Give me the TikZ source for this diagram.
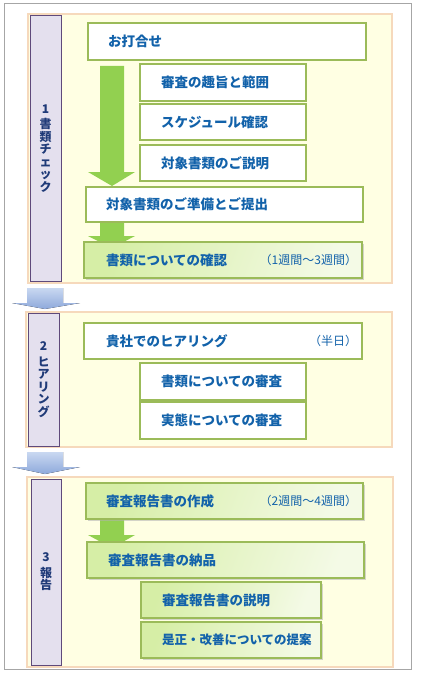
\documentclass[tikz,border=0pt]{standalone}
\usepackage{fontspec}
\setmainfont{Noto Sans CJK JP}
\usetikzlibrary{shadows}
\definecolor{framegray}{HTML}{A6A6A6}
\definecolor{panelfill}{HTML}{FFFFE3}
\definecolor{panelborder}{HTML}{F6D9BC}
\definecolor{sidefill}{HTML}{E4E0EE}
\definecolor{sideborder}{HTML}{5F4A7B}
\definecolor{sidetext}{HTML}{1F3A78}
\definecolor{boxborder}{HTML}{9BBB59}
\definecolor{boxtext}{HTML}{1262AA}
\definecolor{garrow}{HTML}{92D050}
\definecolor{gl}{HTML}{D6EEA6}
\definecolor{gr}{HTML}{F4FAE6}
\definecolor{blA}{HTML}{C9D8F1}
\definecolor{blB}{HTML}{8EA9DB}
\begin{document}
\begin{tikzpicture}[x=1pt,y=-1pt,
  every node/.style={inner sep=0pt, outer sep=0pt},
  panel/.style={draw=panelborder, line width=2pt, fill=panelfill, anchor=north west},
  side/.style={draw=sideborder, line width=1pt, fill=sidefill, text=sidetext, anchor=north west,
    align=center, font=\bfseries\fontsize{12}{12.5}\selectfont},
  box/.style={draw=boxborder, line width=1.6pt, fill=white, anchor=north west, align=left,
    text=boxtext, font=\bfseries\fontsize{13.5}{15}\selectfont},
  gbox/.style={box, left color=gl, right color=gr, shading angle=70,
    general shadow={fill=black!30, opacity=0.55, shadow xshift=1.5pt, shadow yshift=-2pt}},
  dur/.style={text=boxtext, anchor=east, font=\fontsize{12}{14}\selectfont},
  greenarrow/.style={fill=garrow},
  bluearrow/.style={top color=blA, bottom color=blB},
]
\useasboundingbox (0,0) rectangle (420,682);
\fill[white] (0,0) rectangle (420,682);
\draw[framegray, line width=1pt] (4,4) rectangle (411,669);

% ---------- Section 1 ----------
\node[panel, minimum width=364pt, minimum height=269pt] (p1) at (28,14) {};
\node[side, minimum width=31pt, minimum height=265pt] (t1) at (30,16)
  {1\\[3pt]書\\類\\チ\\ェ\\ッ\\ク};
\fill[greenarrow] (100,66) -- (124,66) -- (124,172) -- (135,172) -- (112,186) -- (88,172) -- (100,172) -- cycle;
\fill[greenarrow] (100,220) -- (124,220) -- (124,236) -- (135,236) -- (112,248) -- (88,236) -- (100,236) -- cycle;
\node[box, minimum width=278pt, minimum height=37pt, text width=238pt, inner xsep=20pt] (a1) at (88,23) {お打合せ};
\node[box, minimum width=166pt, minimum height=37pt, text width=124pt, inner xsep=21pt] (s1) at (140,64) {審査の趣旨と範囲};
\node[box, minimum width=166pt, minimum height=36pt, text width=124pt, inner xsep=21pt] (s2) at (140,104) {スケジュール確認};
\node[box, minimum width=166pt, minimum height=36pt, text width=124pt, inner xsep=21pt] (s3) at (140,145) {対象書類のご説明};
\node[box, minimum width=277pt, minimum height=35pt, text width=237pt, inner xsep=20pt] (a2) at (86,187) {対象書類のご準備とご提出};
\node[gbox, minimum width=278pt, minimum height=36pt, text width=234pt, inner xsep=22pt] (a3) at (84,242) {書類についての確認};
\node[dur] (d1) at (357,260) {（1週間～3週間）};

% blue arrow 1
\fill[bluearrow] (27,288) -- (63,288) -- (63,303) -- (80,303) -- (45,309) -- (12,303) -- (27,303) -- cycle;

% ---------- Section 2 ----------
\node[panel, minimum width=366pt, minimum height=135pt] (p2) at (26,312) {};
\node[side, minimum width=31pt, minimum height=133pt] (t2) at (28,313)
  {2\\[3pt]ヒ\\ア\\リ\\ン\\グ};
\node[box, minimum width=278pt, minimum height=36pt, text width=234pt, inner xsep=22pt] (b1) at (84,323) {貴社でのヒアリング};
\node[dur] (d2) at (357,341) {（半日）};
\node[box, minimum width=166pt, minimum height=37pt, text width=124pt, inner xsep=21pt] (s4) at (140,363) {書類についての審査};
\node[box, minimum width=166pt, minimum height=37pt, text width=124pt, inner xsep=21pt] (s5) at (140,402) {実態についての審査};

% blue arrow 2
\fill[bluearrow] (27,452) -- (63,452) -- (63,467) -- (80,467) -- (45,474) -- (12,467) -- (27,467) -- cycle;

% ---------- Section 3 ----------
\node[panel, minimum width=366pt, minimum height=190pt] (p3) at (27,477) {};
\node[side, minimum width=30pt, minimum height=186pt] (t3) at (31,479)
  {3\\[3pt]報\\告};
\fill[greenarrow] (100,517) -- (124,517) -- (124,535) -- (135,535) -- (112,548) -- (88,535) -- (100,535) -- cycle;
\node[gbox, minimum width=277pt, minimum height=36pt, text width=237pt, inner xsep=20pt] (c1) at (86,483) {審査報告書の作成};
\node[dur] (d3) at (357,501) {（2週間～4週間）};
\node[gbox, minimum width=277pt, minimum height=36pt, text width=235pt, inner xsep=21pt] (c2) at (87,542) {審査報告書の納品};
\node[gbox, minimum width=180pt, minimum height=36pt, text width=138pt, inner xsep=21pt] (c3) at (141,582) {審査報告書の説明};
\node[gbox, minimum width=180pt, minimum height=36pt, text width=138pt, inner xsep=21pt,
  font=\bfseries\fontsize{12.5}{15}\selectfont] (c4) at (141,622) {是正・改善についての提案};
\end{tikzpicture}
\end{document}
